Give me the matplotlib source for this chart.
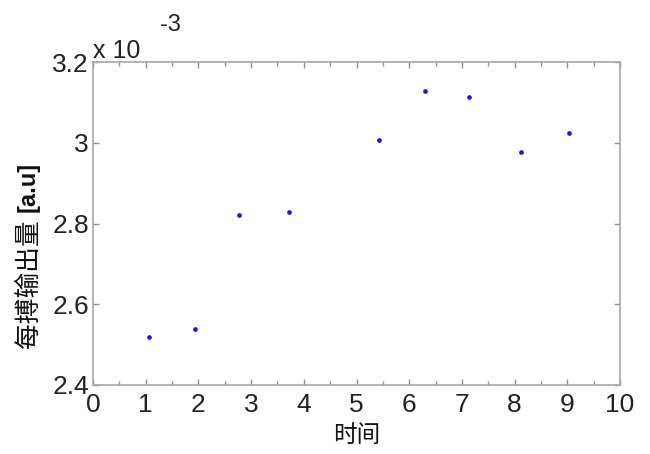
import matplotlib
matplotlib.use("Agg")
import matplotlib.pyplot as plt
from matplotlib.ticker import FixedLocator, FuncFormatter, MultipleLocator

plt.rcParams['font.family'] = ['Liberation Sans', 'Noto Sans CJK SC', 'DejaVu Sans']

# data
time_x = [1.07, 1.94, 2.77, 3.71, 5.43, 6.30, 7.13, 8.12, 9.04]
stroke_out = [2.519e-3, 2.538e-3, 2.822e-3, 2.828e-3, 3.006e-3, 3.128e-3, 3.113e-3, 2.978e-3, 3.025e-3]
x_ticks = [0, 1, 2, 3, 4, 5, 6, 7, 8, 9, 10]
y_ticks = [2.4e-3, 2.6e-3, 2.8e-3, 3.0e-3, 3.2e-3]
x_label = "时间"
y_label_cjk = "每搏输出量"
y_label_unit = "[a.u]"

fig = plt.figure(figsize=(6.5, 4.54), dpi=100)
ax = fig.add_axes([93/650, (454-385)/454, 527/650, 323/454])

ax.plot(time_x, stroke_out, linestyle='none', marker='o', markersize=3.4,
        color='#1c1cc8', markeredgewidth=0)

ax.set_xlim(0, 10)
ax.set_ylim(2.4e-3, 3.2e-3)
ax.xaxis.set_major_locator(FixedLocator(x_ticks))
ax.xaxis.set_minor_locator(MultipleLocator(0.5))
ax.yaxis.set_major_locator(FixedLocator(y_ticks))
ax.yaxis.set_major_formatter(FuncFormatter(lambda v, p: f"{v*1e3:g}"))
ax.xaxis.set_major_formatter(FuncFormatter(lambda v, p: f"{v:g}"))

for s in ax.spines.values():
    s.set_color('#a8a8a8')
    s.set_linewidth(1.2)

ax.tick_params(which='both', direction='in', top=True, right=True,
               color='#909090', labelcolor='#222222')
ax.tick_params(which='major', length=4, width=1, labelsize=19)
ax.tick_params(which='minor', length=3, width=1)
ax.tick_params(axis='x', pad=6)
ax.tick_params(axis='y', pad=3)

# exponent annotation (MATLAB-style)
fig.text(93/650, 1 - 58/454, "x 10", fontsize=18, color='#222222',
         ha='left', va='baseline')
fig.text(160/650, 1 - 31/454, "-3", fontsize=17, color='#222222',
         ha='left', va='baseline')

ax.set_xlabel(x_label, fontsize=17, color='#111111',
              family=['Noto Sans CJK SC', 'DejaVu Sans'], labelpad=5)

# y label: regular CJK part + bold unit part
fig.text(29/650, 1 - 348/454, y_label_cjk, fontsize=18.5, color='#111111',
         rotation=90, ha='center', va='bottom',
         family=['Noto Sans CJK SC', 'DejaVu Sans'])
fig.text(28/650, 1 - 162/454, y_label_unit, fontsize=17, color='#111111',
         rotation=90, ha='center', va='top', fontweight='bold',
         family=['Liberation Sans', 'DejaVu Sans'])

fig.savefig("out.png", dpi=100)
